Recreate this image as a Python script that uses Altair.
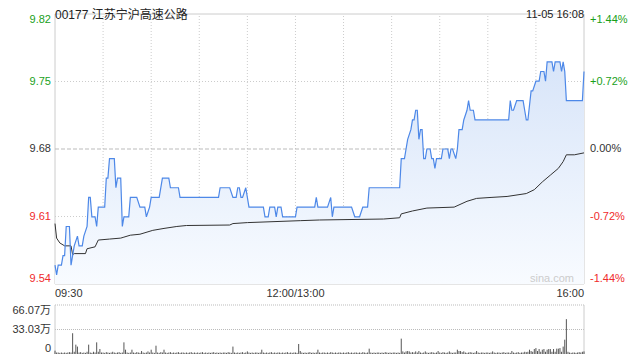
import altair as alt
import pandas as pd

# ---------------- data ----------------
TITLE = "00177 江苏宁沪高速公路"
STAMP = "11-05 16:08"
WATERMARK = "sina.com"
PRECLOSE = 9.68
PCT_LEVELS = [-1.44, -0.72, 0.0, 0.72, 1.44]
LEFT_LABELS = ["9.54", "9.61", "9.68", "9.75", "9.82"]
RIGHT_LABELS = ["-1.44%", "-0.72%", "0.00%", "+0.72%", "+1.44%"]
TIME_TICKS = [0, 150, 330]
TIME_LABELS = ["09:30", "12:00/13:00", "16:00"]
GRID_MINUTES = [30, 60, 90, 120, 150, 180, 210, 240, 270, 300]
VOL_MAX = 66.07
VOL_LEVELS = [0, 33.03, 66.07]
VOL_LABELS = ["0", "33.03万", "66.07万"]

# price line knots (trading minute since 09:30, price)
price_min = [0, 1, 2, 4, 5, 6, 7, 9, 10, 12, 14, 15, 17, 18, 20, 21, 22, 23, 25, 26,
             27, 31, 32, 33, 34, 37, 38, 39, 41, 42, 43, 46, 47, 51, 53, 56, 57, 59, 60, 65,
             67, 71, 72, 77, 78, 102, 103, 109, 111, 113, 114, 115, 116, 117, 119, 121, 130, 131, 133, 134,
             137, 138, 139, 141, 142, 150, 151, 162, 163, 164, 170, 172, 173, 174, 185, 187, 190, 192, 195, 196,
             215, 216, 218, 219, 220, 222, 223, 224, 225, 226, 227, 228, 229, 230, 231, 232, 234, 235, 236, 237,
             238, 241, 242, 245, 246, 247, 248, 250, 251, 252, 254, 255, 257, 258, 259, 261, 262, 283, 284, 285,
             286, 288, 292, 293, 294, 295, 297, 298, 300, 302, 303, 305, 306, 307, 310, 311, 312, 315, 316, 317,
             318, 319, 329, 330]
price_val = [9.56, 9.55, 9.56, 9.56, 9.57, 9.57, 9.60, 9.60, 9.56, 9.58, 9.59, 9.58, 9.58, 9.59, 9.60, 9.63, 9.63, 9.61, 9.61, 9.60,
             9.62, 9.62, 9.65, 9.65, 9.67, 9.67, 9.64, 9.65, 9.65, 9.60, 9.61, 9.61, 9.63, 9.63, 9.62, 9.62, 9.61, 9.62, 9.63, 9.63,
             9.65, 9.65, 9.64, 9.64, 9.63, 9.63, 9.64, 9.64, 9.63, 9.63, 9.64, 9.64, 9.63, 9.63, 9.64, 9.62, 9.62, 9.61, 9.61, 9.62,
             9.62, 9.61, 9.62, 9.62, 9.61, 9.61, 9.62, 9.62, 9.63, 9.62, 9.62, 9.63, 9.61, 9.62, 9.62, 9.61, 9.61, 9.62, 9.62, 9.64,
             9.64, 9.67, 9.67, 9.68, 9.69, 9.70, 9.71, 9.71, 9.72, 9.72, 9.69, 9.70, 9.70, 9.67, 9.67, 9.68, 9.68, 9.67, 9.67, 9.66,
             9.67, 9.67, 9.68, 9.68, 9.67, 9.68, 9.68, 9.67, 9.68, 9.70, 9.70, 9.71, 9.72, 9.73, 9.72, 9.72, 9.71, 9.71, 9.73, 9.72,
             9.72, 9.73, 9.73, 9.72, 9.71, 9.71, 9.74, 9.74, 9.75, 9.75, 9.76, 9.76, 9.75, 9.77, 9.77, 9.76, 9.77, 9.77, 9.76, 9.77,
             9.76, 9.73, 9.73, 9.76]

# average price line knots
avg_min = [0, 1, 3, 6, 10, 11, 12, 19, 20, 25, 27, 34, 41, 43, 47, 53, 61, 68, 76, 82,
           109, 111, 120, 153, 165, 205, 215, 216, 223, 232, 249, 257, 263, 272, 282, 294, 299, 304, 309, 314,
           317, 319, 324, 330]
avg_val = [9.603, 9.588, 9.583, 9.580, 9.580, 9.571, 9.572, 9.572, 9.577, 9.579, 9.586, 9.587, 9.588, 9.589, 9.591, 9.592, 9.596, 9.598, 9.600, 9.601,
           9.6015, 9.603, 9.604, 9.606, 9.6067, 9.6077, 9.609, 9.613, 9.616, 9.619, 9.620, 9.626, 9.629, 9.630, 9.631, 9.634, 9.638, 9.646, 9.653, 9.660,
           9.667, 9.674, 9.674, 9.676]

# volume per minute (万股), minutes 0..330
vol = [4.5, 2, 2, 1.5, 2, 1.5, 2, 1.5, 2, 2.5, 2, 28, 3, 12.6, 10, 2, 2.5, 1.5, 2, 1.5, 3, 12.6, 2, 1.5, 3, 2, 15.7, 3, 6.7, 2,
       2, 1.5, 2.5, 2, 1.5, 2, 3, 2, 1.5, 2, 2.5, 1.5, 2, 15.7, 5.8, 2, 1.5, 2, 5.8, 2, 1.5, 2.5, 2, 1.5, 4, 2, 1.5, 2, 3.5, 2,
       5.8, 2, 1.5, 11.2, 2, 1.5, 2.5, 2, 5.8, 2, 1.5, 2, 2.5, 1.5, 2, 1.5, 2, 2.5, 1.5, 2, 2, 1.5, 2, 1.5, 2, 2.5, 1.5, 2, 1.5, 2,
       1.5, 2, 2.5, 1.5, 2, 1.5, 2, 1.5, 2, 2.5, 1.5, 2, 1.5, 2, 1.5, 2, 2, 1.5, 2.5, 2, 1.5, 10, 2, 1.5, 2, 1.5, 2, 2.5, 1.5, 2,
       3.5, 2, 1.5, 2, 1.5, 2, 2, 1.5, 2, 5.8, 2, 1.5, 2, 1.5, 2, 2.5, 1.5, 2, 1.5, 2, 2, 1.5, 2, 1.5, 2, 2.5, 1.5, 2, 1.5, 2,
       2, 1.5, 13.5, 4, 2, 1.5, 2, 1.5, 2, 2.5, 1.5, 2, 1.5, 2, 5.8, 2, 1.5, 2, 2, 1.5, 2, 1.5, 2.5, 2, 1.5, 2, 1.5, 2, 2, 1.5,
       2, 1.5, 2, 2.5, 1.5, 2, 1.5, 2, 2, 1.5, 2, 1.5, 2.5, 2, 1.5, 2, 7.2, 2, 1.5, 2, 1.5, 2, 2, 1.5, 2, 1.5, 2.5, 2, 1.5, 2,
       1.5, 2, 2, 1.5, 2, 1.5, 20.7, 3.5, 2, 3.5, 4, 3.5, 2, 2.5, 2, 3.5, 2, 4, 2, 1.5, 2, 3.5, 2, 1.5, 2, 2.5, 2, 1.5, 2, 4,
       2, 1.5, 2.5, 2, 1.5, 2, 3.5, 2, 1.5, 2, 2, 5.8, 4, 4, 2.5, 3.5, 2, 1.5, 2, 2.5, 2, 1.5, 2, 4, 2, 1.5, 2, 2, 1.5, 2,
       2, 1.5, 2, 3.5, 2, 1.5, 2, 2, 1.5, 2, 2.5, 1.5, 2, 2, 1.5, 4, 2, 1.5, 2, 2.5, 1.5, 2, 2, 3, 2.5, 3, 5.8, 4, 3, 6.7,
       8, 4, 6.7, 3, 5.8, 6.7, 3, 5.8, 6.7, 6.7, 3, 6.7, 3, 7.2, 7.2, 8, 3, 10, 19.3, 47, 3, 2, 1.5, 2, 2, 1.5, 2, 2.5, 2, 3,
       3.5]

# ---------------- styling ----------------
FONT = "Arial, 'Liberation Sans', 'Noto Sans CJK SC', sans-serif"
GREEN = "#1a9f1a"
RED = "#f02b2b"
DARK = "#333333"
BLUE = "#4d88e8"
GRID = "#cccccc"

W, H = 529, 340          # plot width, total height (price + volume panels)
P_H = 270                # price panel height
V_TOP, V_BOT = 291, 340  # volume panel range (pixels from top)

lo = PRECLOSE * (1 + PCT_LEVELS[0] / 100)
hi = PRECLOSE * (1 + PCT_LEVELS[-1] / 100)

xs = alt.Scale(domain=[0, 330], nice=False, zero=False)
ys = alt.Scale(domain=[lo, hi], range=[P_H, 0], nice=False, zero=False)
vs = alt.Scale(domain=[0, VOL_MAX], range=[V_BOT, V_TOP], nice=False, zero=False)

price_df = pd.DataFrame({"m": price_min, "p": price_val})
price_df["base"] = lo
avg_df = pd.DataFrame({"m": avg_min, "p": avg_val})
vol_df = pd.DataFrame({"m": list(range(len(vol))), "v": vol})

lev = pd.DataFrame({
    "pct": PCT_LEVELS,
    "price": [PRECLOSE * (1 + p / 100) for p in PCT_LEVELS],
    "left": LEFT_LABELS,
    "right": RIGHT_LABELS,
})
lev["dir"] = ["down" if p < 0 else ("up" if p > 0 else "flat") for p in PCT_LEVELS]
lev["x0"] = 0
lev["x1"] = 330
color_enc = alt.Color("dir:N", scale=alt.Scale(domain=["down", "flat", "up"], range=[RED, DARK, GREEN]), legend=None)

X = lambda f="m": alt.X(f"{f}:Q", scale=xs, axis=None)
Yp = lambda f="p": alt.Y(f"{f}:Q", scale=ys, axis=None)
Yv = lambda f="v": alt.Y(f"{f}:Q", scale=vs, axis=None)

layers = []

# price frame
frame_df = pd.DataFrame({"x0": [0], "x1": [330], "y0": [lo], "y1": [hi]})
layers.append(alt.Chart(frame_df).mark_rect(fillOpacity=0, stroke=GRID, strokeWidth=1).encode(
    x=X("x0"), x2="x1:Q", y=Yp("y0"), y2="y1:Q"))

# vertical grid
vg = pd.DataFrame({"m": GRID_MINUTES, "y0": lo, "y1": hi})
layers.append(alt.Chart(vg).mark_rule(stroke=GRID, strokeDash=[1, 2], strokeWidth=1).encode(
    x=X("m"), y=Yp("y0"), y2="y1:Q"))

# horizontal grid (±0.72%)
hg = lev[lev["pct"].abs() == 0.72]
layers.append(alt.Chart(hg).mark_rule(stroke=GRID, strokeDash=[1, 2], strokeWidth=1).encode(
    x=X("x0"), x2="x1:Q", y=Yp("price")))
# pre-close line
zl = lev[lev["pct"] == 0]
layers.append(alt.Chart(zl).mark_rule(stroke="#bbbbbb", strokeDash=[4, 2], strokeWidth=1).encode(
    x=X("x0"), x2="x1:Q", y=Yp("price")))

# area + lines
grad = alt.Gradient(gradient="linear",
                    stops=[alt.GradientStop(color="#d8e5f9", offset=0),
                           alt.GradientStop(color="#f8fbff", offset=1)],
                    x1=0, x2=0, y1=0, y2=1)
layers.append(alt.Chart(price_df).mark_area(color=grad, interpolate="linear").encode(
    x=X(), y=Yp(), y2="base:Q"))
layers.append(alt.Chart(avg_df).mark_line(color=DARK, strokeWidth=1).encode(x=X(), y=Yp()))
layers.append(alt.Chart(price_df).mark_line(color=BLUE, strokeWidth=1.2).encode(x=X(), y=Yp()))

# left & right price labels
for sub, base, dy in [(lev.iloc[[4]], "top", 0), (lev.iloc[1:4], "middle", 0), (lev.iloc[[0]], "bottom", 0)]:
    layers.append(alt.Chart(sub).mark_text(align="right", baseline=base, dx=-4, dy=dy, fontSize=11, font=FONT).encode(
        x=X("x0"), y=Yp("price"), text="left:N", color=color_enc))
    layers.append(alt.Chart(sub).mark_text(align="left", baseline=base, dx=6, dy=dy, fontSize=11, font=FONT).encode(
        x=X("x1"), y=Yp("price"), text="right:N", color=color_enc))

# time labels
tdf = pd.DataFrame({"m": TIME_TICKS, "lab": TIME_LABELS, "y": lo})
for i, al in enumerate(["left", "center", "right"]):
    layers.append(alt.Chart(tdf.iloc[[i]]).mark_text(align=al, baseline="top", dy=4, fontSize=11, font=FONT, color=DARK).encode(
        x=X("m"), y=Yp("y"), text="lab:N"))

# volume panel
vdf = pd.DataFrame({"v": VOL_LEVELS, "lab": VOL_LABELS, "x0": 0, "x1": 330})
layers.append(alt.Chart(vdf.iloc[1:]).mark_rule(stroke="#bbbbbb", strokeDash=[1, 1], strokeWidth=1).encode(
    x=X("x0"), x2="x1:Q", y=Yv("v")))
vb = pd.DataFrame({"m": [0, 330], "v0": 0, "v1": VOL_MAX})
layers.append(alt.Chart(vb).mark_rule(stroke=GRID, strokeWidth=1).encode(
    x=X("m"), y=Yv("v0"), y2="v1:Q"))
vol_df["zero"] = 0
layers.append(alt.Chart(vol_df).mark_rule(stroke="#555555", strokeWidth=1).encode(
    x=X("m"), y=Yv("v"), y2="zero:Q"))
for i, base in enumerate(["bottom", "middle", "top"]):
    layers.append(alt.Chart(vdf.iloc[[i]]).mark_text(align="right", baseline=base, dx=-4, fontSize=11, font=FONT, color=DARK).encode(
        x=X("x0"), y=Yv("v"), text="lab:N"))

# title, timestamp, watermark
layers.append(alt.Chart(pd.DataFrame({"t": [TITLE]})).mark_text(
    align="left", baseline="alphabetic", fontSize=12, font=FONT, color="#222222").encode(
    x=alt.value(0), y=alt.value(5), text="t:N"))
layers.append(alt.Chart(pd.DataFrame({"t": [STAMP]})).mark_text(
    align="right", baseline="alphabetic", fontSize=11, font=FONT, color="#222222").encode(
    x=alt.value(W), y=alt.value(4), text="t:N"))
layers.append(alt.Chart(pd.DataFrame({"t": [WATERMARK]})).mark_text(
    align="right", baseline="middle", fontSize=11, font=FONT, color="#cccccc").encode(
    x=alt.value(W - 10), y=alt.value(265), text="t:N"))

chart = alt.layer(*layers).resolve_scale(y="independent", color="independent").properties(
    width=W, height=H,
    autosize=alt.AutoSizeParams(type="none"),
    padding={"left": 47, "top": 6, "right": 48, "bottom": 4},
).configure_view(stroke=None)

chart.save("out.html", embed_options={"renderer": "svg", "actions": False})
